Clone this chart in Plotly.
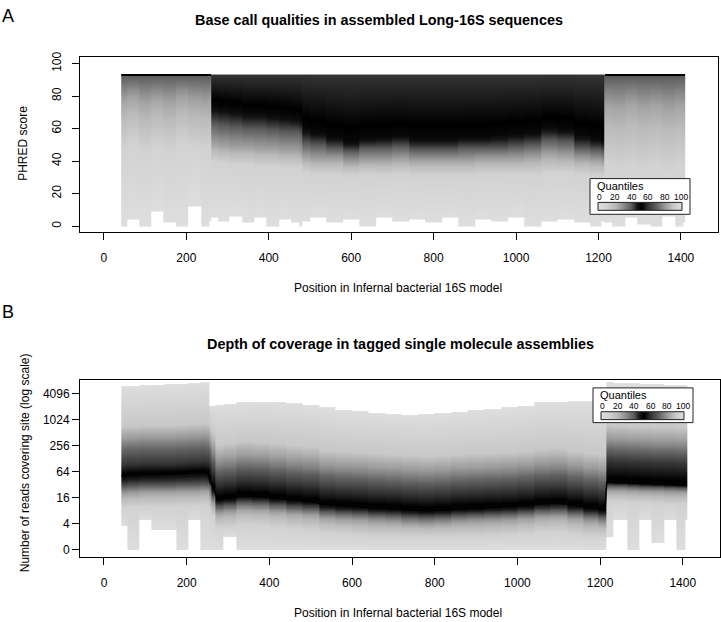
import numpy as np
import plotly.graph_objects as go

W, H = 721, 622

# ---------------- Panel A: base-call quality quantiles (PHRED) ----------------
pos_A = [42, 70, 100, 130, 160, 190, 220, 250, 260,
         263, 290, 320, 350, 380, 410, 440, 470, 478,
         482, 520, 560, 600, 640, 680, 720, 760, 800, 840, 880, 920, 960, 1000, 1040, 1080, 1120, 1160, 1200, 1212,
         1216, 1250, 1280, 1310, 1340, 1370, 1400, 1410]
phred_q0 = [0, 4, 0, 9, 2, 0, 12, 0, 3,
            5, 3, 6, 2, 5, 0, 4, 2, 0,
            3, 5, 2, 4, 0, 5, 3, 4, 2, 5, 0, 4, 3, 5, 0, 3, 4, 2, 0, 3,
            2, 0, 5, 1, 0, 6, 0, 2]
phred_q10 = [48, 51, 46, 50, 47, 52, 49, 47, 50,
             40, 39, 38, 38, 37, 37, 36, 36, 36,
             33, 32, 32, 31, 32, 31, 32, 31, 31, 31, 31, 32, 32, 32, 32, 33, 33, 32, 31, 31,
             38, 37, 39, 37, 38, 36, 38, 38]
phred_q25 = [77, 79, 76, 78, 76, 79, 77, 76, 78,
             50, 49, 48, 48, 47, 47, 46, 46, 45,
             42, 41, 41, 39, 40, 40, 41, 40, 40, 40, 40, 41, 41, 41, 42, 44, 43, 41, 40, 39,
             74, 73, 75, 73, 74, 72, 74, 74]
phred_q40 = [93, 93, 93, 93, 93, 93, 93, 93, 93,
             63, 62, 61, 60, 60, 59, 58, 58, 57,
             51, 50, 48, 46, 48, 48, 49, 47, 47, 47, 48, 48, 48, 49, 50, 53, 52, 48, 47, 46,
             93, 93, 93, 93, 93, 93, 93, 93]
phred_q50 = [93, 93, 93, 93, 93, 93, 93, 93, 93,
             74, 73, 72, 70, 70, 69, 68, 67, 66,
             60, 58, 55, 52, 54, 55, 56, 54, 54, 54, 55, 55, 56, 57, 58, 61, 60, 56, 54, 53,
             93, 93, 93, 93, 93, 93, 93, 93]
# quantiles 60..100 sit at the PHRED cap
phred_q60_to_max = [93, 93, 93, 93, 93, 93, 93, 93, 93,
                    93, 93, 93, 93, 93, 93, 93, 93, 93,
                    93, 93, 93, 93, 93, 93, 93, 93, 93, 93, 93, 93, 93, 93, 93, 93, 93, 93, 93, 93,
                    93, 93, 93, 93, 93, 93, 93, 93]
levels_A = [0, 10, 25, 40, 50, 60, 100]

# ---------------- Panel B: depth of coverage quantiles (log2 reads) ----------------
pos_B = [42, 70, 100, 130, 160, 190, 220, 245, 252,
         256, 265, 275, 300, 340, 380, 420, 460, 500, 540, 580, 620, 660, 700, 740, 780, 820, 860, 900, 940,
         980, 1020, 1060, 1100, 1140, 1180, 1212,
         1216, 1250, 1280, 1310, 1340, 1370, 1400, 1410]
depth_q0 = [1.8, 0, 2.3, 1.5, 1.5, 0, 2.3, 0, 0,
            0, 0, 0, 1.0, 0, 0, 0, 0, 0, 0, 0, 0, 0, 0, 0, 0, 0, 0, 0, 0,
            0, 0, 0, 0, 0, 0, 0,
            1.0, 2.3, 0, 2.3, 0.5, 2.3, 0, 2.3]
depth_q10 = [3.2, 3.3, 3.3, 3.3, 3.3, 3.35, 3.35, 3.4, 3.4,
             3.0, 2.6, 1.7, 1.75, 1.95, 1.9, 1.75, 1.6, 1.5, 1.3, 1.2, 1.1, 1.0, 1.0, 1.0, 1.0, 1.0, 1.0, 1.0, 1.05,
             1.1, 1.2, 1.35, 1.4, 1.2, 1.0, 1.0,
             3.7, 3.7, 3.6, 3.6, 3.55, 3.5, 3.5, 3.5]
depth_q25 = [4.25, 4.3, 4.35, 4.35, 4.35, 4.4, 4.4, 4.45, 4.45,
             4.0, 3.5, 2.75, 2.85, 3.05, 3.0, 2.85, 2.7, 2.6, 2.35, 2.25, 2.2, 2.1, 2.05, 1.95, 1.9, 1.95, 2.05, 2.1, 2.15,
             2.2, 2.3, 2.45, 2.5, 2.3, 2.1, 1.95,
             4.5, 4.5, 4.45, 4.4, 4.4, 4.35, 4.35, 4.35]
depth_q40 = [4.85, 4.9, 4.95, 4.95, 4.95, 5.0, 5.0, 5.05, 5.0,
             4.9, 4.1, 3.3, 3.4, 3.6, 3.55, 3.4, 3.25, 3.15, 2.9, 2.8, 2.75, 2.65, 2.6, 2.5, 2.45, 2.5, 2.6, 2.65, 2.7,
             2.75, 2.85, 3.0, 3.05, 2.85, 2.65, 2.5,
             4.9, 4.9, 4.85, 4.8, 4.78, 4.75, 4.72, 4.7]
depth_q50 = [5.67, 5.75, 5.79, 5.8, 5.82, 5.85, 5.9, 5.95, 5.9,
             5.3, 4.7, 3.85, 3.95, 4.15, 4.1, 3.95, 3.8, 3.7, 3.45, 3.35, 3.3, 3.2, 3.15, 3.05, 3.0, 3.05, 3.15, 3.18, 3.25,
             3.3, 3.4, 3.55, 3.6, 3.4, 3.2, 3.05,
             5.22, 5.18, 5.12, 5.08, 5.05, 5.0, 4.98, 4.97]
depth_q60 = [6.5, 6.55, 6.6, 6.6, 6.6, 6.65, 6.7, 6.75, 6.7,
             6.5, 5.9, 5.05, 5.15, 5.35, 5.3, 5.15, 5.0, 4.9, 4.65, 4.55, 4.5, 4.4, 4.35, 4.25, 4.2, 4.25, 4.35, 4.4, 4.45,
             4.5, 4.6, 4.75, 4.8, 4.6, 4.4, 4.25,
             6.8, 6.75, 6.7, 6.65, 6.6, 6.6, 6.55, 6.55]
depth_q75 = [8.1, 8.15, 8.2, 8.2, 8.2, 8.25, 8.3, 8.35, 8.3,
             7.9, 7.3, 6.45, 6.55, 6.75, 6.7, 6.55, 6.4, 6.3, 6.05, 5.95, 5.9, 5.8, 5.75, 5.65, 5.6, 5.65, 5.75, 5.8, 5.85,
             5.9, 6.0, 6.15, 6.2, 6.0, 5.8, 5.65,
             8.1, 8.05, 8.0, 7.95, 7.9, 7.9, 7.85, 7.85]
depth_q90 = [9.5, 9.55, 9.6, 9.6, 9.6, 9.65, 9.7, 9.75, 9.7,
             9.4, 8.9, 8.05, 8.15, 8.35, 8.3, 8.15, 8.0, 7.9, 7.65, 7.55, 7.5, 7.4, 7.35, 7.25, 7.2, 7.25, 7.35, 7.4, 7.45,
             7.5, 7.6, 7.75, 7.8, 7.6, 7.4, 7.25,
             9.6, 9.55, 9.5, 9.5, 9.45, 9.45, 9.4, 9.4]
depth_q100 = [12.59, 12.63, 12.67, 12.71, 12.75, 12.8, 12.85, 12.9, 12.92,
              11.08, 11.1, 11.15, 11.25, 11.35, 11.38, 11.38, 11.33, 11.15, 10.95, 10.75, 10.67, 10.55, 10.45, 10.4,
              10.42, 10.5, 10.6, 10.74, 10.85,
              10.95, 11.1, 11.35, 11.4, 11.45, 11.46, 11.46,
              12.92, 12.88, 12.84, 12.8, 12.76, 12.72, 12.68, 12.67]
levels_B = [0, 10, 25, 40, 50, 60, 75, 90, 100]

# ---------------- ticks / labels ----------------
x_ticks = [0, 200, 400, 600, 800, 1000, 1200, 1400]
phred_ticks = [0, 20, 40, 60, 80, 100]
depth_ticks_log2 = [0, 2, 4, 6, 8, 10, 12]
depth_tick_labels = ["0", "4", "16", "64", "256", "1024", "4096"]
legend_ticks = [0, 20, 40, 60, 80, 100]

# grey ramp: light -> black at the median -> light
RAMP_STOPS = [0.00, 0.10, 0.20, 0.30, 0.40, 0.47, 0.52, 0.60, 0.70, 0.80, 0.90, 1.00]
RAMP_GREYS = [222, 210, 186, 142, 90, 20, 0, 52, 98, 156, 200, 222]
GRAY = [[s, f"rgb({g},{g},{g})"] for s, g in zip(RAMP_STOPS, RAMP_GREYS)]

FONT = "Liberation Sans, Arial, Helvetica, sans-serif"


def quantile_field(pos, levels, qarrays, y_hi, step):
    n = len(pos)
    xe = [pos[0]] + [(pos[i - 1] + pos[i]) / 2 for i in range(1, n)] + [pos[-1]]
    ye = np.arange(0, y_hi + step / 2, step)
    yc = (ye[:-1] + ye[1:]) / 2
    Q = np.array(qarrays, dtype=float)
    z = np.full((len(yc), n), np.nan)
    for j in range(n):
        col = Q[:, j]
        m = (yc >= col[0]) & (yc <= col[-1])
        z[m, j] = np.interp(yc[m], col, levels)
    return xe, ye, z


xeA, yeA, zA = quantile_field(pos_A, levels_A,
                              [phred_q0, phred_q10, phred_q25, phred_q40, phred_q50,
                               phred_q60_to_max, phred_q60_to_max], 93.25, 0.25)
xeB, yeB, zB = quantile_field(pos_B, levels_B,
                              [depth_q0, depth_q10, depth_q25, depth_q40, depth_q50,
                               depth_q60, depth_q75, depth_q90, depth_q100], 13.0, 0.04)

# in panel A the median is only drawn as a line where it collapses onto the cap
medA_line = [m if m == c else None for m, c in zip(phred_q50, phred_q60_to_max)]

fig = go.Figure()
fig.add_trace(go.Heatmap(x=xeA, y=yeA, z=zA, colorscale=GRAY, zmin=0, zmax=100,
                         showscale=False, hoverinfo="skip", xaxis="x", yaxis="y"))
fig.add_trace(go.Scatter(x=pos_A, y=medA_line, mode="lines", line=dict(color="black", width=2),
                         connectgaps=False, hoverinfo="skip", showlegend=False, xaxis="x", yaxis="y"))
fig.add_trace(go.Heatmap(x=xeB, y=yeB, z=zB, colorscale=GRAY, zmin=0, zmax=100,
                         showscale=False, hoverinfo="skip", xaxis="x2", yaxis="y2"))
fig.add_trace(go.Scatter(x=pos_B, y=depth_q50, mode="lines", line=dict(color="black", width=1.5),
                         hoverinfo="skip", showlegend=False, xaxis="x2", yaxis="y2"))


def px_x(p):
    return p / W


def px_y(p):
    return 1 - p / H


axis_common = dict(ticks="outside", ticklen=7, tickwidth=1, tickcolor="black",
                   showline=True, linecolor="black", linewidth=1, mirror=True,
                   showgrid=False, zeroline=False,
                   tickfont=dict(size=12, color="black", family=FONT))

fig.update_layout(
    width=W, height=H,
    margin=dict(l=0, r=0, t=0, b=0),
    paper_bgcolor="white", plot_bgcolor="white",
    showlegend=False,
    font=dict(family=FONT, color="black"),
    xaxis=dict(domain=[px_x(80), px_x(718)], range=[-58, 1490], anchor="y",
               tickvals=x_ticks, ticklabelstandoff=7, **axis_common),
    yaxis=dict(domain=[px_y(229), px_y(52)], range=[-3.7, 104.3], anchor="x",
               tickvals=phred_ticks, tickangle=-90, ticklabelstandoff=6, **axis_common),
    xaxis2=dict(domain=[px_x(80), px_x(720)], range=[-58, 1490], anchor="y2",
                tickvals=x_ticks, ticklabelstandoff=8, **axis_common),
    yaxis2=dict(domain=[px_y(556), px_y(378)], range=[-0.54, 13.08], anchor="x2",
                tickvals=depth_ticks_log2, ticktext=depth_tick_labels, **axis_common),
)

ann = []


def text(x, y, s, size=12, angle=0, xanchor="center", bold=False):
    ann.append(dict(x=px_x(x), y=px_y(y), xref="paper", yref="paper", text=f"<b>{s}</b>" if bold else s,
                    showarrow=False, xanchor=xanchor, yanchor="middle", textangle=angle,
                    font=dict(size=size, family=FONT, color="black")))


text(8, 11, "A", size=18)
text(8, 309, "B", size=18)
text(379, 15, "Base call qualities in assembled Long-16S sequences", size=14.4, bold=True)
text(400, 342, "Depth of coverage in tagged single molecule assemblies", size=14.4, bold=True)
text(23, 140, "PHRED score", angle=-90)
text(398, 285, "Position in Infernal bacterial 16S model")
text(25, 462, "Number of reads covering site (log scale)", angle=-90)
text(398, 613, "Position in Infernal bacterial 16S model")

shapes = []


def legend(bx0, by0, bx1, by1, title_x, title_y, lab_y, gx0, gy0, gx1, gy1):
    shapes.append(dict(type="rect", xref="paper", yref="paper", layer="above",
                       x0=px_x(bx0), x1=px_x(bx1), y0=px_y(by1), y1=px_y(by0),
                       fillcolor="white", line=dict(color="#222", width=1)))
    nseg = int(gx1 - gx0)
    for k in range(nseg):
        f = (k + 0.5) / nseg
        g = int(round(np.interp(f, RAMP_STOPS, RAMP_GREYS)))
        shapes.append(dict(type="rect", xref="paper", yref="paper", layer="above",
                           x0=px_x(gx0 + k), x1=px_x(gx0 + k + 1.05), y0=px_y(gy1), y1=px_y(gy0),
                           fillcolor=f"rgb({g},{g},{g})", line=dict(width=0)))
    shapes.append(dict(type="rect", xref="paper", yref="paper", layer="above",
                       x0=px_x(gx0), x1=px_x(gx1), y0=px_y(gy1), y1=px_y(gy0),
                       line=dict(color="#222", width=1)))
    text(title_x, title_y, "Quantiles", size=11, xanchor="left")
    for v in legend_ticks:
        text(gx0 + 1 + v / 100 * (gx1 - gx0 - 2), lab_y, str(v), size=8.5)


legend(590, 175, 690, 211, 595, 182, 193.5, 598, 199, 682, 207)
legend(593, 386, 693, 421, 598, 393, 404.5, 601, 410, 684, 418)

fig.update_layout(annotations=ann, shapes=shapes)
fig.write_html("out.html", config={"displayModeBar": False},
               post_script="document.body.style.margin='0px';document.body.style.overflow='hidden';")
